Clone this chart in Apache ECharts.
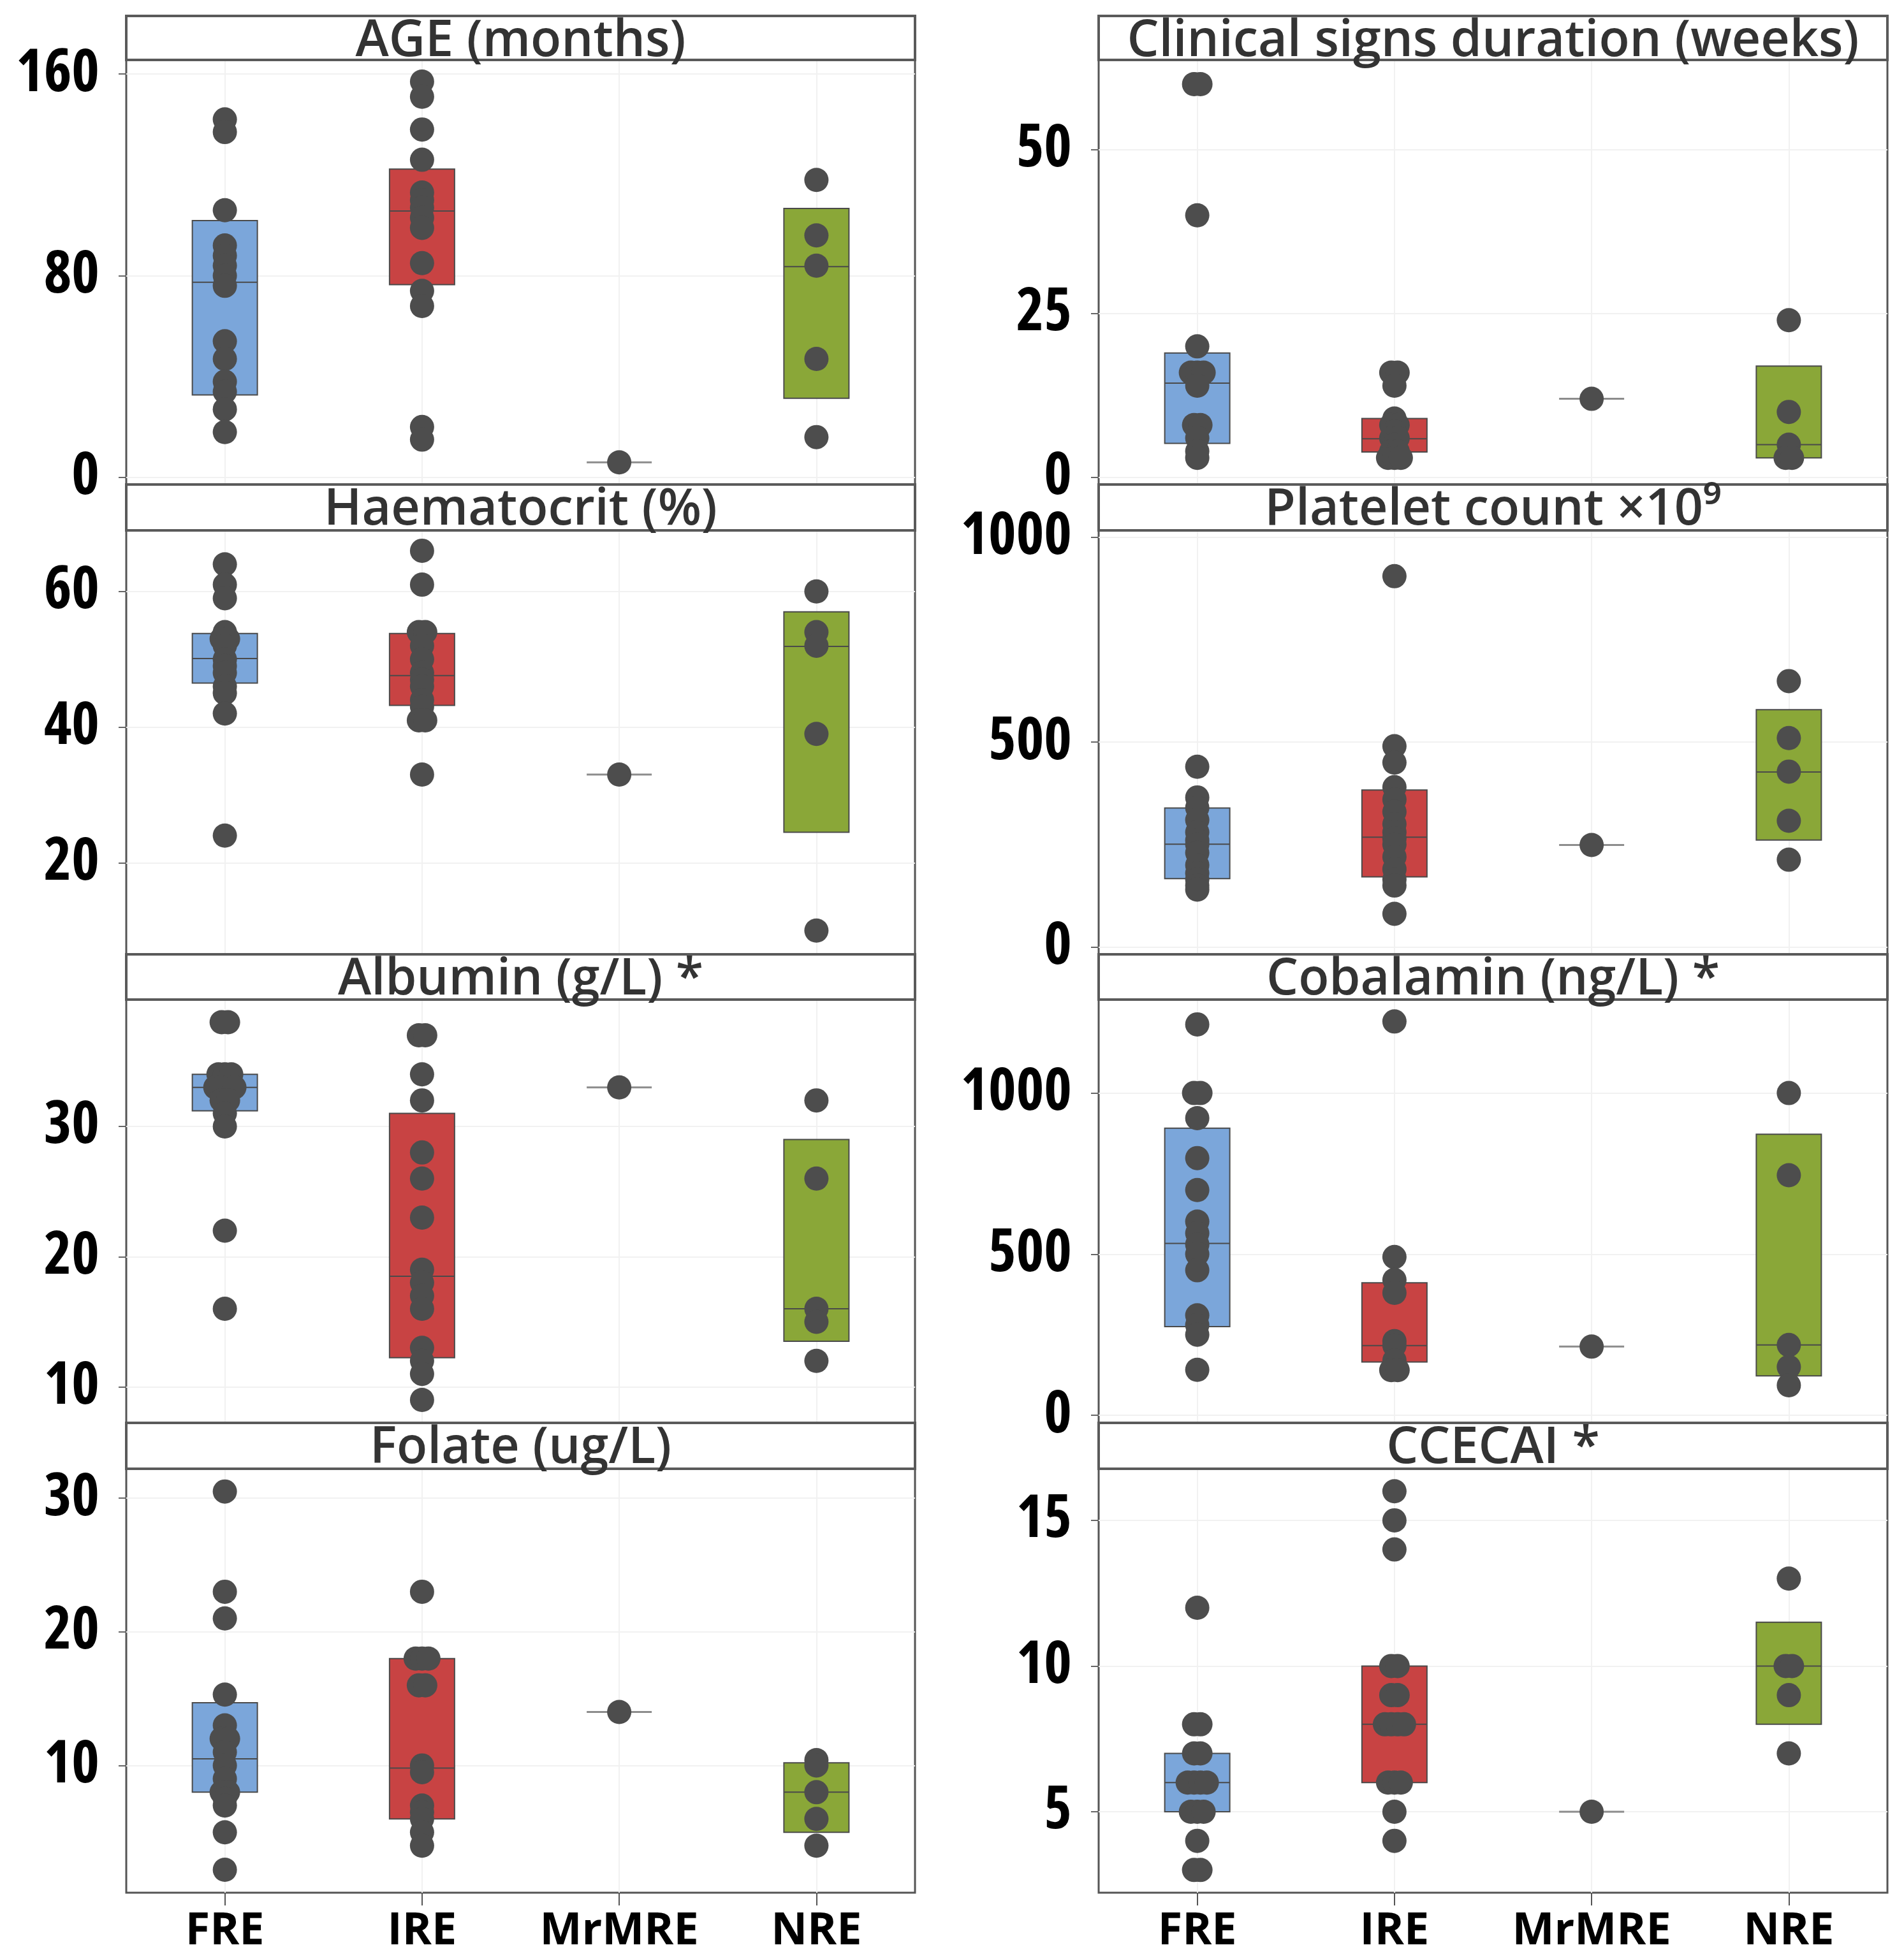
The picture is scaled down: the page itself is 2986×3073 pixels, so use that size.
<!DOCTYPE html>
<html>
<head>
<meta charset="utf-8">
<script src="https://cdn.jsdelivr.net/npm/echarts@6/dist/echarts.min.js"></script>
<style>
html,body{margin:0;padding:0;background:#fff;}
#chart{width:2986px;height:3073px;}
</style>
</head>
<body>
<div id="chart"></div>
<script>
// ---------- DATA ----------
const categories = ['FRE', 'IRE', 'MrMRE', 'NRE'];

// individual values per group [FRE, IRE, MrMRE, NRE]
const agePoints = [
  [142, 137, 106, 92, 88, 84, 80, 76, 54, 47, 38, 34, 27, 18],
  [157, 151, 138, 126, 113, 110, 107, 103, 99, 85, 74, 68, 20, 15],
  [6],
  [118, 96, 84, 47, 16]
];
const durationPoints = [
  [60, 60, 40, 20, 16, 16, 16, 14, 8, 8, 6, 4, 3],
  [16, 16, 14, 9, 8, 8, 7, 6, 6, 5, 4, 4, 3, 3, 3],
  [12],
  [24, 10, 5, 3, 3]
];
const haematocritPoints = [
  [64, 61, 59, 54, 53, 53, 52, 50, 49, 48, 46, 45, 42, 24],
  [66, 61, 54, 54, 52, 50, 48, 47, 46, 44, 43, 41, 41, 33],
  [33],
  [60, 54, 52, 39, 10]
];
const plateletPoints = [
  [440, 365, 340, 310, 280, 260, 250, 230, 200, 180, 165, 150, 140],
  [905, 490, 450, 390, 360, 330, 300, 280, 265, 250, 220, 190, 165, 150, 81],
  [249],
  [649, 510, 428, 308, 213]
];
const albuminPoints = [
  [38, 38, 34, 34, 34, 33, 33, 33, 33, 32, 32, 31, 30, 22, 16],
  [37, 37, 34, 32, 28, 26, 23, 19, 18, 17, 16, 13, 12, 11, 9],
  [33],
  [32, 26, 16, 15, 12]
];
const cobalaminPoints = [
  [1213, 1000, 1000, 922, 798, 699, 601, 565, 530, 500, 450, 310, 280, 250, 141],
  [1222, 491, 420, 380, 230, 216, 170, 140, 140],
  [213],
  [1000, 745, 218, 150, 93]
];
const folatePoints = [
  [30.5, 23, 21, 15.3, 13, 12, 12, 11, 10, 9, 8, 8, 7.5, 7, 5, 2.2],
  [23, 18, 18, 18, 16, 16, 10, 9.5, 7, 6.5, 6, 5, 4],
  [14],
  [10.4, 10, 8, 6, 4]
];
const ccecaiPoints = [
  [12, 8, 8, 7, 7, 6, 6, 6, 6, 5, 5, 5, 4, 3, 3],
  [16, 15, 14, 10, 10, 9, 9, 8, 8, 8, 8, 6, 6, 6, 5, 4],
  [5],
  [13, 10, 10, 9, 7]
];

// box statistics per group: [Q1, median, Q3]
const ageBoxes        = [[32.7, 77.4, 101.9], [76.5, 105.7, 122.3], [6, 6, 6], [31.4, 83.6, 106.7]];
const durationBoxes   = [[5.2, 14.4, 19], [3.9, 5.9, 9], [12, 12, 12], [3, 5, 17]];
const haematocritBoxes= [[46.5, 50.1, 53.8], [43.2, 47.6, 53.8], [33, 33, 33], [24.5, 51.9, 57]];
const plateletBoxes   = [[167, 251, 339], [171, 268, 383], [249, 249, 249], [261, 427, 579]];
const albuminBoxes    = [[31.2, 33, 34], [12.25, 18.5, 31], [33, 33, 33], [13.5, 16, 29]];
const cobalaminBoxes  = [[275, 533, 891], [165, 216, 411], [213, 213, 213], [122, 218, 872]];
const folateBoxes     = [[8.0, 10.5, 14.7], [6.0, 9.8, 18], [14, 14, 14], [5, 8, 10.2]];
const ccecaiBoxes     = [[5, 6, 7], [6, 8, 10], [5, 5, 5], [8, 10, 11.5]];

// tick labels
const ageTicks = [0, 80, 160];
const durationTicks = [0, 25, 50];
const haematocritTicks = [20, 40, 60];
const plateletTicks = [0, 500, 1000];
const albuminTicks = [10, 20, 30];
const cobalaminTicks = [0, 500, 1000];
const folateTicks = [10, 20, 30];
const ccecaiTicks = [5, 10, 15];

const titles = ['AGE (months)', 'Clinical signs duration (weeks)', 'Haematocrit (%)', 'Platelet count \u00d710\u2079',
                'Albumin (g/L) *', 'Cobalamin (ng/L) *', 'Folate (ug/L)', 'CCECAI *'];

// ---------- LAYOUT / STYLE ----------
const panels = [
  {pts: agePoints, box: ageBoxes, ticks: ageTicks, min: -2.8, max: 165.6},
  {pts: durationPoints, box: durationBoxes, ticks: durationTicks, min: -1.07, max: 63.7},
  {pts: haematocritPoints, box: haematocritBoxes, ticks: haematocritTicks, min: 6.5, max: 69.0},
  {pts: plateletPoints, box: plateletBoxes, ticks: plateletTicks, min: -17.9, max: 1016.8},
  {pts: albuminPoints, box: albuminBoxes, ticks: albuminTicks, min: 7.24, max: 39.74},
  {pts: cobalaminPoints, box: cobalaminBoxes, ticks: cobalaminTicks, min: -23.7, max: 1290},
  {pts: folatePoints, box: folateBoxes, ticks: folateTicks, min: 0.48, max: 32.2},
  {pts: ccecaiPoints, box: ccecaiBoxes, ticks: ccecaiTicks, min: 2.22, max: 16.77}
];

const colLeft = [198, 1723];
const colWidth = 1237;
const rowHeader = [25, 760, 1497, 2232];
const rowTop = [94, 832, 1568, 2304];
const rowBottom = [760, 1497, 2232, 2969];

const groupColors = ['#7BA6DA', '#C84343', 'rgba(0,0,0,0)', '#8AA738'];
const tickFamily = "'Open Sans', 'Noto Sans', sans-serif";
const yTickWeight = 'bold condensed';
const xTickWeight = 'bold';
const titleFont = "'Open Sans', 'Noto Sans', sans-serif";

const grids = [], xAxes = [], yAxes = [], series = [], graphics = [];

panels.forEach((p, k) => {
  const col = k % 2, row = Math.floor(k / 2);
  const left = colLeft[col], top = rowTop[row], h = rowBottom[row] - rowTop[row];
  const bottomRow = row === 3;
  grids.push({left: left, top: top, width: colWidth, height: h, show: true,
    backgroundColor: '#fff', borderColor: '#555', borderWidth: 3, containLabel: false});
  xAxes.push({gridIndex: k, type: 'category', data: categories, boundaryGap: true,
    axisLine: {show: false},
    axisTick: {show: bottomRow, alignWithLabel: true, length: 20, lineStyle: {color: '#555', width: 2}},
    axisLabel: {show: bottomRow, interval: 0, fontSize: 70, fontWeight: xTickWeight, color: '#000', fontFamily: tickFamily, margin: 26},
    splitLine: {show: false}});
  yAxes.push({gridIndex: k, type: 'value', min: p.min, max: p.max,
    axisLine: {show: false}, splitLine: {show: false},
    axisTick: {show: true, length: 12, customValues: p.ticks, lineStyle: {color: '#666', width: 2}},
    axisLabel: {customValues: p.ticks, formatter: v => String(v), fontSize: 93, fontWeight: yTickWeight, color: '#000', fontFamily: tickFamily, margin: 42}});

  // faint reference grid
  series.push({type: 'scatter', xAxisIndex: k, yAxisIndex: k, data: [], z: 1, silent: true,
    markLine: {silent: true, z: 1, symbol: 'none', animation: false, label: {show: false},
      lineStyle: {color: '#f1f1f1', width: 2, type: 'solid'},
      emphasis: {disabled: true},
      data: p.ticks.map(v => ({yAxis: v})).concat(categories.map(c => ({xAxis: c})))}});

  // quartile boxes with median
  series.push({type: 'boxplot', xAxisIndex: k, yAxisIndex: k, z: 2, silent: true,
    boxWidth: [102, 102],
    itemStyle: {borderColor: '#4a4a4a', borderWidth: 2},
    emphasis: {disabled: true},
    data: p.box.map((b, i) => ({
      value: [b[0], b[0], b[1], b[2], b[2]],
      itemStyle: i === 2 ? {color: 'rgba(0,0,0,0)', borderColor: '#8c8c8c', borderWidth: 3}
                         : {color: groupColors[i], borderColor: '#4a4a4a', borderWidth: 2}
    }))});

  // individual values, duplicates dodged side by side
  const pts = [];
  p.pts.forEach((vals, i) => {
    const counts = {};
    vals.forEach(v => { counts[v] = (counts[v] || 0) + 1; });
    const seen = {};
    vals.forEach(v => {
      const n = counts[v];
      const j = seen[v] = (seen[v] === undefined ? 0 : seen[v] + 1);
      const dx = (j - (n - 1) / 2) * 10;
      pts.push({value: [i, v], symbolOffset: [dx, 0]});
    });
  });
  series.push({type: 'scatter', xAxisIndex: k, yAxisIndex: k, z: 3, silent: true,
    symbolSize: 38, itemStyle: {color: '#4d4d4d', opacity: 1}, data: pts});

  // strip header
  const hy = rowHeader[row], hh = top - hy;
  graphics.push({type: 'rect', shape: {x: left, y: hy, width: colWidth, height: hh},
    style: {fill: '#fff', stroke: '#5a5a5a', lineWidth: 4}, z: 10});
  graphics.push({type: 'text', x: left + colWidth / 2, y: hy + 40, z: 11,
    style: {text: titles[k], fill: '#333', font: "600 79px " + titleFont, textAlign: 'center', textVerticalAlign: 'middle'}});
});

const chart = echarts.init(document.getElementById('chart'), null, {renderer: 'canvas'});
chart.setOption({
  backgroundColor: '#fff',
  animation: false,
  grid: grids,
  xAxis: xAxes,
  yAxis: yAxes,
  series: series,
  graphic: {elements: graphics}
});
</script>
</body>
</html>
